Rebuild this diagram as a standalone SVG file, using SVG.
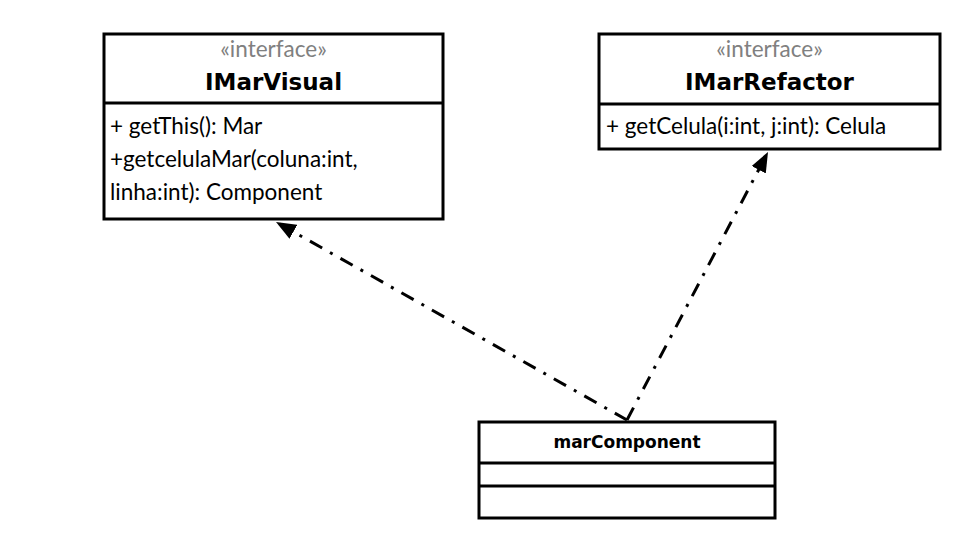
<svg xmlns="http://www.w3.org/2000/svg" width="960" height="540" viewBox="0 0 960 540">
<defs>
<style>
.box{fill:#fff;stroke:#000;stroke-width:3}
.div{stroke:#000;stroke-width:3}
.st{font-family:Lato,"Open Sans",sans-serif;font-size:22.5px;fill:#808080;text-anchor:middle}
.nm{font-family:"DejaVu Sans",sans-serif;font-size:23px;font-weight:bold;fill:#000;text-anchor:middle}
.nm2{font-family:"DejaVu Sans",sans-serif;font-size:17px;font-weight:bold;fill:#000;text-anchor:middle}
.mb{font-family:Lato,"Open Sans",sans-serif;font-size:22.5px;fill:#000}
.dep{fill:none;stroke:#000;stroke-width:3;stroke-dasharray:14,9,3,9}
</style>
<marker id="arr" markerWidth="22" markerHeight="16" refX="20" refY="8" orient="auto" markerUnits="userSpaceOnUse">
<path d="M0,0 L20,8 L0,16 Z" fill="#000"/>
</marker>
</defs>
<rect width="960" height="540" fill="#fff"/>
<g id="connectors">
<path class="dep" d="M627,420 L276,222" marker-end="url(#arr)"/>
<path class="dep" d="M627,420 L768,152" marker-end="url(#arr)"/>
</g>
<g id="IMarVisual">
<rect class="box" x="104" y="34" width="339" height="185"/>
<line class="div" x1="104" y1="103" x2="443" y2="103"/>
<text class="st" x="273.5" y="57">«interface»</text>
<text class="nm" x="273.5" y="90">IMarVisual</text>
<text class="mb" x="110" y="134">+ getThis(): Mar</text>
<text class="mb" x="110" y="167">+getcelulaMar(coluna:int,</text>
<text class="mb" x="110" y="200">linha:int): Component</text>
</g>
<g id="IMarRefactor">
<rect class="box" x="599" y="34" width="341" height="115"/>
<line class="div" x1="599" y1="104" x2="940" y2="104"/>
<text class="st" x="769.5" y="57">«interface»</text>
<text class="nm" x="769.5" y="90">IMarRefactor</text>
<text class="mb" x="606" y="134">+ getCelula(i:int, j:int): Celula</text>
</g>
<g id="marComponent">
<rect class="box" x="479" y="422" width="296" height="96"/>
<line class="div" x1="479" y1="463" x2="775" y2="463"/>
<line class="div" x1="479" y1="486" x2="775" y2="486"/>
<text class="nm2" x="627" y="448">marComponent</text>
</g>
</svg>
